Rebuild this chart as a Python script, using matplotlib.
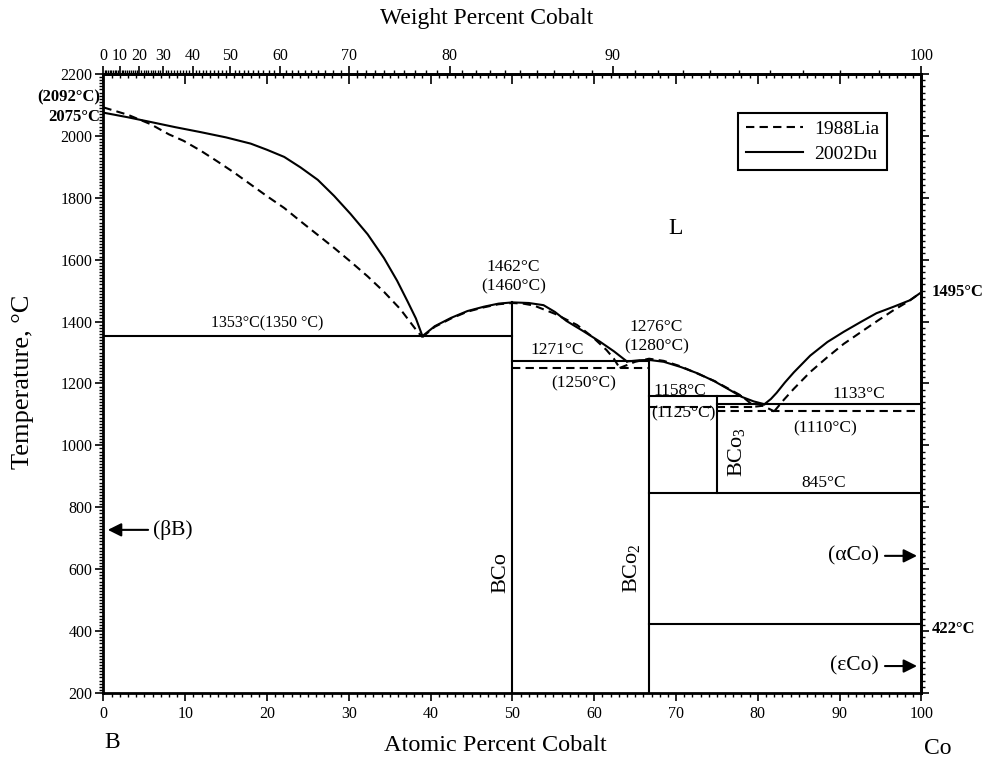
import numpy as np
import matplotlib
matplotlib.use('Agg')
from matplotlib import pyplot as plt
from matplotlib.ticker import MultipleLocator, NullFormatter

plt.rcParams['font.family'] = ['Liberation Serif', 'DejaVu Serif']
plt.rcParams['mathtext.fontset'] = 'custom'
plt.rcParams['mathtext.rm'] = 'Liberation Serif'
plt.rcParams['mathtext.it'] = 'Liberation Serif:italic'

# Molar masses used for the weight percent scale
M_CO = 58.933
M_B = 10.811

# Liquidus on the boron side of the BCo eutectic
liq_b_du_x = [0, 3.0, 5.75, 8.8, 11.9, 15.0, 18.0, 20.0, 22.1, 24.1, 26.2, 28.2,
              30.2, 32.3, 34.3, 35.9, 37.2, 38.2, 39.0]
liq_b_du_t = [2075, 2060, 2045, 2028, 2012, 1995, 1975, 1955, 1932, 1898, 1858, 1806,
              1748, 1682, 1605, 1532, 1464, 1410, 1353]
liq_b_lia_x = [0, 3.0, 5.75, 8.0, 9.8, 11.9, 13.9, 16.0, 18.0, 20.0, 22.1, 24.1,
               26.2, 28.2, 30.2, 32.3, 34.3, 36.3, 38.4, 39.0]
liq_b_lia_t = [2092, 2068, 2038, 2005, 1984, 1952, 1918, 1881, 1843, 1805, 1767, 1724,
               1680, 1638, 1594, 1546, 1496, 1440, 1367, 1350]

# BCo congruent melting dome
bco_du_x = [39.0, 40.5, 42.5, 44.5, 46.5, 48.3, 50.0, 52.0, 53.8, 55.2, 56.6, 58.6,
            60.7, 62.4, 64.0]
bco_du_t = [1353, 1385, 1412, 1434, 1448, 1458, 1462, 1460, 1453, 1431, 1402, 1370,
            1335, 1304, 1271]
bco_lia_x = [39.0, 40.5, 42.5, 44.5, 46.5, 48.3, 50.0, 51.3, 52.6, 55.2, 57.9, 59.8,
             61.5, 62.4, 63.1]
bco_lia_t = [1350, 1383, 1410, 1432, 1446, 1456, 1460, 1458, 1452, 1425, 1389, 1350,
             1308, 1280, 1250]

# BCo2 dome down to the cobalt-rich eutectic
bco2_du_x = [64.0, 65.5, 66.7, 68.5, 70.6, 72.7, 74.7, 76.5, 78.0, 79.5, 80.8]
bco2_du_t = [1271, 1275, 1276, 1270, 1253, 1232, 1207, 1180, 1157, 1142, 1133]
bco2_lia_x = [63.1, 65.0, 66.7, 68.5, 70.6, 74.7, 78.0, 79.6, 80.6, 82.0]
bco2_lia_t = [1250, 1270, 1280, 1273, 1255, 1208, 1160, 1125, 1128, 1110]

# Liquidus on the cobalt side
liq_co_du_x = [80.8, 81.6, 82.3, 83.3, 84.4, 86.4, 88.5, 90.5, 92.6, 94.5, 96.6, 98.6, 100]
liq_co_du_t = [1133, 1150, 1170, 1203, 1236, 1290, 1334, 1367, 1399, 1427, 1448, 1469, 1495]
liq_co_lia_x = [82.0, 83.2, 84.4, 86.4, 88.5, 90.5, 92.6, 94.6, 96.6, 98.4, 100]
liq_co_lia_t = [1110, 1148, 1183, 1237, 1285, 1328, 1366, 1402, 1437, 1465, 1495]

# Invariant lines: (temperature, x start, x end)
iso_du = [(1353, 0, 50), (1271, 50, 66.7), (1158, 66.7, 78.0),
          (1133, 75, 100), (845, 66.7, 100), (422, 66.7, 100)]
iso_lia = [(1250, 50, 66.7), (1125, 66.7, 79.6), (1110, 75, 100)]

# Compound lines: (x, temperature bottom, temperature top)
compounds = [(50, 200, 1462), (66.7, 200, 1276), (75, 845, 1158)]


def at_to_wt(x):
    x = np.asarray(x, dtype=float)
    with np.errstate(divide='ignore', invalid='ignore'):
        return 100 * x * M_CO / (x * M_CO + (100 - x) * M_B)


def wt_to_at(w):
    w = np.asarray(w, dtype=float)
    with np.errstate(divide='ignore', invalid='ignore'):
        return 100 * (w / M_CO) / (w / M_CO + (100 - w) / M_B)


fig = plt.figure(figsize=(9.85, 7.61), dpi=100)
ax = fig.add_axes([0.105, 0.0894, 0.8305, 0.8134])

lw = 1.5
dash = (0, (4, 2.5))

ax.plot(liq_b_lia_x, liq_b_lia_t, color='black', lw=lw, linestyle=dash, label='1988Lia')
ax.plot(liq_b_du_x, liq_b_du_t, color='black', lw=lw, label='2002Du')
ax.plot(bco_lia_x, bco_lia_t, color='black', lw=lw, linestyle=dash)
ax.plot(bco_du_x, bco_du_t, color='black', lw=lw)
ax.plot(bco2_lia_x, bco2_lia_t, color='black', lw=lw, linestyle=dash)
ax.plot(bco2_du_x, bco2_du_t, color='black', lw=lw)
ax.plot(liq_co_lia_x, liq_co_lia_t, color='black', lw=lw, linestyle=dash)
ax.plot(liq_co_du_x, liq_co_du_t, color='black', lw=lw)

for t, x0, x1 in iso_du:
    ax.plot([x0, x1], [t, t], color='black', lw=lw)
for t, x0, x1 in iso_lia:
    ax.plot([x0, x1], [t, t], color='black', lw=lw, linestyle=dash)
for x, t0, t1 in compounds:
    ax.plot([x, x], [t0, t1], color='black', lw=lw)

ax.set_xlim(0, 100)
ax.set_ylim(200, 2200)

for sp in ax.spines.values():
    sp.set_linewidth(2)

tick_fs = 11.5

# bottom / left ticks
ax.xaxis.set_major_locator(MultipleLocator(10))
ax.xaxis.set_minor_locator(MultipleLocator(1))
ax.yaxis.set_major_locator(MultipleLocator(200))
ax.yaxis.set_minor_locator(MultipleLocator(10))
ax.tick_params(which='major', direction='out', length=6, width=1.2, labelsize=tick_fs)
ax.tick_params(which='minor', direction='out', length=3, width=1)
ax.tick_params(axis='y', pad=2)

# at% ticks repeated along the top, pointing inward
top_at = ax.secondary_xaxis('top')
top_at.xaxis.set_major_locator(MultipleLocator(10))
top_at.xaxis.set_minor_locator(MultipleLocator(1))
top_at.xaxis.set_major_formatter(NullFormatter())
top_at.tick_params(which='major', direction='in', length=7, width=1.2)
top_at.tick_params(which='minor', direction='in', length=3, width=1)
top_at.spines['top'].set_linewidth(2)

# weight percent scale
top_wt = ax.secondary_xaxis('top', functions=(at_to_wt, wt_to_at))
top_wt.set_xticks(np.arange(0, 101, 10))
top_wt.set_xticks(np.arange(0, 100.1, 1), minor=True)
top_wt.xaxis.set_minor_formatter(NullFormatter())
top_wt.tick_params(which='major', direction='out', length=6, width=1.2, labelsize=tick_fs, pad=1)
top_wt.tick_params(which='minor', direction='out', length=3, width=1)

# temperature ticks on the right edge
right_t = ax.secondary_yaxis('right')
right_t.yaxis.set_major_locator(MultipleLocator(200))
right_t.yaxis.set_minor_locator(MultipleLocator(20))
right_t.yaxis.set_major_formatter(NullFormatter())
right_t.tick_params(which='major', direction='out', length=6, width=1.2)
right_t.tick_params(which='minor', direction='out', length=3, width=1)
right_t.spines['right'].set_linewidth(2)

# axis titles
fig.text(0.494, 0.976, 'Weight Percent Cobalt', fontsize=17, ha='center', va='center')
fig.text(0.5025, 0.021, 'Atomic Percent Cobalt', fontsize=17.5, ha='center', va='center')
fig.text(0.023, 0.498, 'Temperature, °C', fontsize=19, rotation=90, ha='center', va='center')
fig.text(0.114, 0.024, 'B', fontsize=17, ha='center', va='center')
fig.text(0.952, 0.017, 'Co', fontsize=17, ha='center', va='center')

# annotations
fs = 12.5
ax.text(69.9, 1702, 'L', fontsize=17, ha='center', va='center')
ax.text(50.1, 1575, '1462°C', fontsize=fs, ha='center', va='center')
ax.text(50.1, 1513, '(1460°C)', fontsize=fs, ha='center', va='center')
ax.text(20.0, 1395, '1353°C(1350 °C)', fontsize=11.5, ha='center', va='center')
ax.text(55.5, 1308, '1271°C', fontsize=fs, ha='center', va='center')
ax.text(58.7, 1201, '(1250°C)', fontsize=fs, ha='center', va='center')
ax.text(67.6, 1381, '1276°C', fontsize=fs, ha='center', va='center')
ax.text(67.6, 1319, '(1280°C)', fontsize=fs, ha='center', va='center')
ax.text(70.5, 1176, '1158°C', fontsize=fs, ha='center', va='center')
ax.text(70.9, 1102, '(1125°C)', fontsize=fs, ha='center', va='center')
ax.text(92.3, 1165, '1133°C', fontsize=fs, ha='center', va='center')
ax.text(88.2, 1055, '(1110°C)', fontsize=fs, ha='center', va='center')
ax.text(88.0, 878, '845°C', fontsize=fs, ha='center', va='center')
ax.text(48.6, 588, 'BCo', fontsize=16, rotation=90, ha='center', va='center')
ax.text(64.6, 604, r'BCo$_2$', fontsize=16, rotation=90, ha='center', va='center')
ax.text(77.4, 979, r'BCo$_3$', fontsize=16, rotation=90, ha='center', va='center')

# phase arrows at the pure-element edges
arrow = dict(arrowstyle='-|>', color='black', lw=1.5, mutation_scale=20)
ax.annotate('', xy=(0.2, 727), xytext=(5.8, 727), arrowprops=arrow)
ax.text(6.1, 727, '(βB)', fontsize=15.5, ha='left', va='center')
ax.annotate('', xy=(99.8, 643), xytext=(95.2, 643), arrowprops=arrow)
ax.text(94.8, 643, '(αCo)', fontsize=15.5, ha='right', va='center')
ax.annotate('', xy=(99.8, 287), xytext=(95.2, 287), arrowprops=arrow)
ax.text(94.8, 287, '(εCo)', fontsize=15.5, ha='right', va='center')

# values written outside the frame
bold_fs = 12
ax.text(-0.4, 2125, '(2092°C)', fontsize=bold_fs, fontweight='bold', ha='right', va='center', clip_on=False)
ax.text(-0.4, 2060, '2075°C', fontsize=bold_fs, fontweight='bold', ha='right', va='center', clip_on=False)
ax.text(1.012, 1495, '1495°C', fontsize=bold_fs, fontweight='bold', ha='left', va='center',
        transform=ax.get_yaxis_transform(), clip_on=False)
ax.text(1.012, 408, '422°C', fontsize=bold_fs, fontweight='bold', ha='left', va='center',
        transform=ax.get_yaxis_transform(), clip_on=False)

leg = ax.legend(loc='upper right', bbox_to_anchor=(0.97, 0.953), fontsize=14,
                frameon=True, fancybox=False, edgecolor='black', framealpha=1,
                handlelength=2.9, handletextpad=0.6, borderpad=0.4, labelspacing=0.35)
leg.get_frame().set_linewidth(1.5)

fig.savefig('out.png', dpi=100)
